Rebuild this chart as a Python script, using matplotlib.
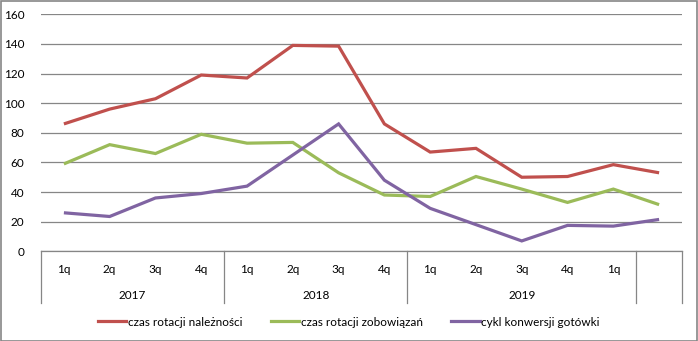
import matplotlib
matplotlib.use("Agg")
import matplotlib.pyplot as plt
from matplotlib.lines import Line2D

plt.rcParams['font.family'] = ['Lato', 'DejaVu Sans']

quarters = ["1q", "2q", "3q", "4q", "1q", "2q", "3q", "4q", "1q", "2q", "3q", "4q", "1q", ""]
years = ["2017", "2018", "2019", ""]
year_sizes = [4, 4, 5, 1]

receivables = [86, 96, 103, 119, 117, 139, 138.5, 86, 67, 69.5, 50, 50.5, 58.5, 53]
payables = [59, 72, 66, 79, 73, 73.5, 53, 38, 37, 50.5, 42, 33, 42, 31.5]
cash_cycle = [26, 23.5, 36, 39, 44, 65, 86, 48, 29, 18, 7, 17.5, 17, 21.5]

series_names = ["czas rotacji należności", "czas rotacji zobowiązań", "cykl konwersji gotówki"]
series_colors = ["#C0504D", "#9BBB59", "#8064A2"]

W, H = 698, 341
fig = plt.figure(figsize=(W / 100, H / 100), dpi=100)
ax = fig.add_axes([41 / W, 1 - 251.3 / H, (682 - 41) / W, (251.3 - 14.3) / H])

x = list(range(len(quarters)))
for vals, col in zip([receivables, payables, cash_cycle], series_colors):
    ax.plot(x, vals, color=col, lw=2.3, solid_joinstyle='miter', solid_capstyle='butt')

ax.set_xlim(-0.5, len(quarters) - 0.5)
ax.set_ylim(0, 160)
ax.set_yticks(range(0, 161, 20))
ax.yaxis.grid(True, color="#868686", lw=0.9)
ax.set_axisbelow(True)
for s in ["top", "right", "left"]:
    ax.spines[s].set_visible(False)
ax.spines["bottom"].set_color("#868686")
ax.spines["bottom"].set_linewidth(0.9)
ax.tick_params(axis='y', length=0, pad=12, labelsize=8.5, labelcolor="black")
ax.set_xticks([])

# two-level category axis
axh = 237.0
tr = ax.get_xaxis_transform()
for xi, q in enumerate(quarters):
    ax.text(xi, -18 / axh, q, transform=tr, ha='center', va='center', fontsize=8.5)

bounds = [-0.5]
for n in year_sizes:
    bounds.append(bounds[-1] + n)
for b in bounds:
    ax.plot([b, b], [0, -52 / axh], transform=tr, color="#868686", lw=0.9, clip_on=False)
for i, yr in enumerate(years):
    mid = (bounds[i] + bounds[i + 1]) / 2
    ax.text(mid, -44 / axh, yr, transform=tr, ha='center', va='center', fontsize=8.5)

handles = [Line2D([], [], color=c, lw=2.3) for c in series_colors]
fig.legend(handles, series_names, loc='center', bbox_to_anchor=(0.5, 1 - 322 / H), ncol=3,
           frameon=False, fontsize=8.5, handlelength=2.4, handletextpad=0.15,
           columnspacing=2.4)

# outer chart border
fig.add_artist(plt.Rectangle((0.5 / W, 0.5 / H), 1 - 1.5 / W, 1 - 1.5 / H,
                             transform=fig.transFigure, fill=False,
                             edgecolor="#868686", lw=1.2))

fig.savefig("out.png", dpi=100)
